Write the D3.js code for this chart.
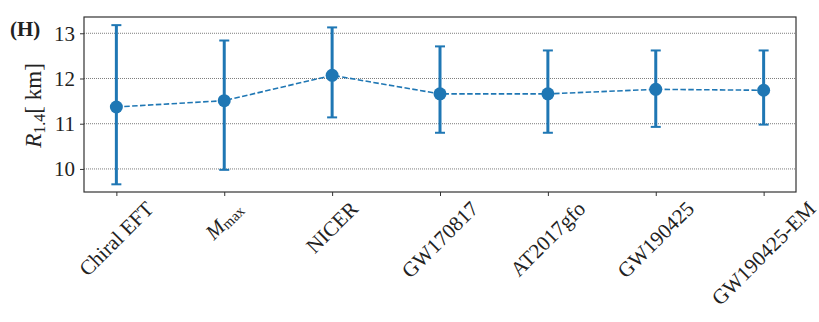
<!DOCTYPE html>
<html>
<head>
<meta charset="utf-8">
<script src="https://cdn.jsdelivr.net/npm/d3@7"></script>
<style>
  html, body { margin: 0; padding: 0; background: #fff; }
  svg { display: block; }
  text { font-family: "Liberation Serif", "DejaVu Serif", serif; fill: #222; }
</style>
</head>
<body>
<svg id="chart" width="819" height="322"></svg>
<script>
// ---- data ----
const categories = ["Chiral EFT", "M_max", "NICER", "GW170817", "AT2017gfo", "GW190425", "GW190425-EM"];
const medians = [11.37, 11.51, 12.07, 11.66, 11.66, 11.76, 11.74];
const upper = [13.18, 12.84, 13.13, 12.71, 12.62, 12.62, 12.62];
const lower = [9.66, 9.98, 11.14, 10.80, 10.80, 10.93, 10.98];
const yTicks = [10, 11, 12, 13];
const yDomain = [9.49, 13.36];
const panelLabel = "(H)";

// ---- layout ----
const svg = d3.select("#chart");
const L = 84, R = 796, T = 17, B = 192;
const color = "#1f77b4";
const fsY = 21, fsX = 21;

const x = d3.scalePoint().domain(categories).range([L, R]).padding(0.3);
const y = d3.scaleLinear().domain(yDomain).range([B, T]);

// gridlines
svg.append("g").selectAll("line").data(yTicks).join("line")
  .attr("x1", L).attr("x2", R)
  .attr("y1", d => y(d)).attr("y2", d => y(d))
  .attr("stroke", "#444").attr("stroke-width", 0.7)
  .attr("stroke-dasharray", "1,1");

// y axis
const yAxis = d3.axisLeft(y).tickValues(yTicks).tickSize(4).tickPadding(5).tickFormat(d3.format("d"));
const ya = svg.append("g").attr("transform", `translate(${L},0)`).call(yAxis);
ya.select(".domain").remove();
ya.selectAll("line").attr("stroke", "#333").attr("stroke-width", 1);
ya.selectAll("text").attr("font-size", fsY).attr("font-family", "Liberation Serif").attr("fill", "#222");

// x axis ticks
const xAxis = d3.axisBottom(x).tickSize(4).tickFormat("");
const xa = svg.append("g").attr("transform", `translate(0,${B})`).call(xAxis);
xa.select(".domain").remove();
xa.selectAll("line").attr("stroke", "#333").attr("stroke-width", 1);

// rotated x labels
const labTop = B + 6;
categories.forEach(c => {
  const g = svg.append("g");
  const t = g.append("text")
    .attr("font-size", fsX)
    .attr("text-anchor", "middle")
    .attr("dominant-baseline", "central");
  if (c === "M_max") {
    t.append("tspan").attr("font-style", "italic").text("M");
    t.append("tspan").attr("font-size", fsX * 0.7).attr("dy", 4).text("max");
  } else {
    t.text(c);
  }
  const bb = t.node().getBBox();
  const w = bb.width, h = fsX * 0.95;
  const H = (w + h) / Math.SQRT2;
  g.attr("transform", `translate(${x(c)},${labTop + H / 2}) rotate(-45)`);
});

// frame
svg.append("rect").attr("x", L).attr("y", T).attr("width", R - L).attr("height", B - T)
  .attr("fill", "none").attr("stroke", "#333").attr("stroke-width", 1.2);

// dashed line
const line = d3.line().x((d, i) => x(categories[i])).y(d => y(d));
svg.append("path").datum(medians).attr("d", line)
  .attr("fill", "none").attr("stroke", color).attr("stroke-width", 1.6)
  .attr("stroke-dasharray", "5.5,2.4");

// error bars
const eb = svg.append("g");
categories.forEach((c, i) => {
  const cx = x(c);
  eb.append("line").attr("x1", cx).attr("x2", cx).attr("y1", y(lower[i])).attr("y2", y(upper[i]))
    .attr("stroke", color).attr("stroke-width", 3);
  [lower[i], upper[i]].forEach(v => {
    eb.append("line").attr("x1", cx - 5).attr("x2", cx + 5).attr("y1", y(v)).attr("y2", y(v))
      .attr("stroke", color).attr("stroke-width", 2);
  });
});

// markers
svg.append("g").selectAll("circle").data(medians).join("circle")
  .attr("cx", (d, i) => x(categories[i])).attr("cy", d => y(d)).attr("r", 6.5)
  .attr("fill", color);

// y label
const fsL = 23;
const yl = svg.append("text")
  .attr("transform", `translate(41,${(T + B) / 2 + 1}) rotate(-90)`)
  .attr("text-anchor", "middle").attr("font-size", fsL);
yl.append("tspan").attr("font-style", "italic").text("R");
yl.append("tspan").attr("font-size", fsL * 0.7).attr("dy", 4).text("1.4");
yl.append("tspan").attr("dy", -4).text("[ km]");

// panel label
svg.append("text").attr("x", 10).attr("y", 36).attr("font-size", 21)
  .attr("font-weight", "bold").text(panelLabel);
</script>
</body>
</html>
